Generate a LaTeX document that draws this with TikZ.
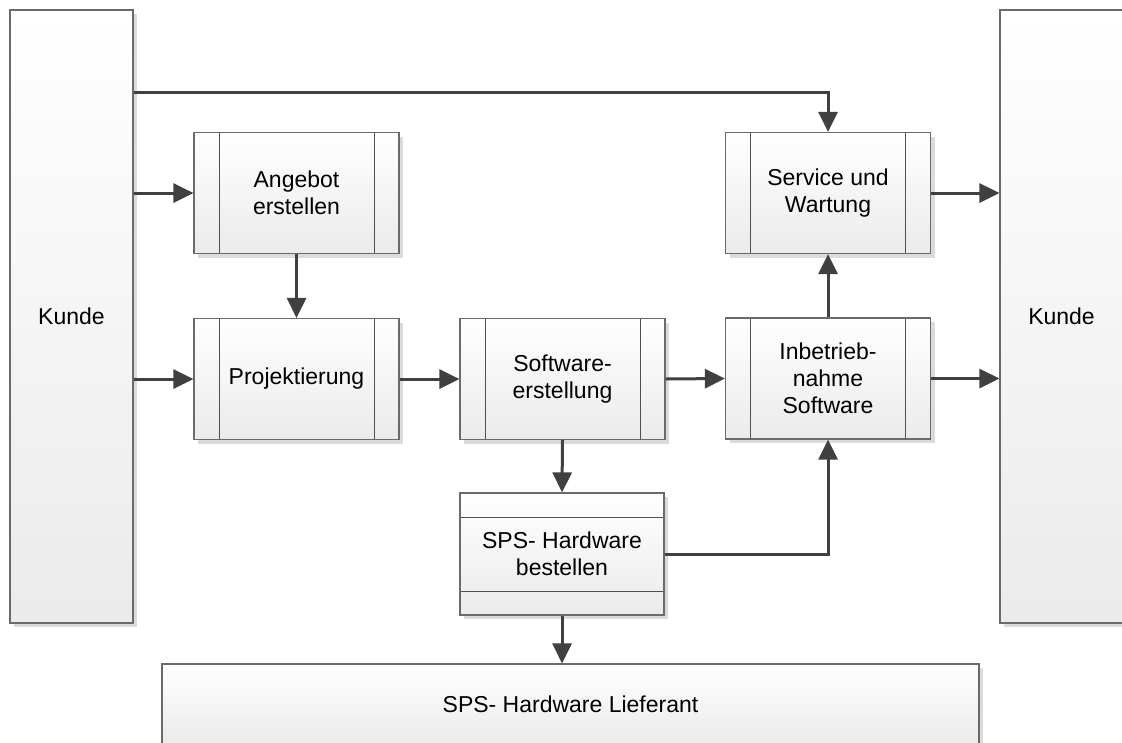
\documentclass[tikz,border=0pt]{standalone}
\usepackage{fontspec}
\setmainfont{Liberation Sans}
\usetikzlibrary{shadows,arrows.meta}
\definecolor{edge}{HTML}{6A6A6A}
\definecolor{inner}{HTML}{505050}
\definecolor{flow}{HTML}{404040}
\begin{document}
\begin{tikzpicture}[x=1pt,y=-1pt,
  box/.style={draw=edge, line width=1.2pt, top color=white, bottom color=black!8,
    general shadow={fill=black!14, shadow xshift=4pt, shadow yshift=-4pt},
    inner sep=0pt, align=center, font=\fontsize{23}{27}\selectfont},
  proc/.style={box, minimum width=205pt, minimum height=121pt,
    path picture={
      \draw[inner, line width=1pt] ([xshift=25pt]path picture bounding box.north west) -- ([xshift=25pt]path picture bounding box.south west);
      \draw[inner, line width=1pt] ([xshift=-25pt]path picture bounding box.north east) -- ([xshift=-25pt]path picture bounding box.south east);}},
  order/.style={box, minimum width=204pt, minimum height=122pt,
    path picture={
      \draw[inner, line width=1pt] ([yshift=-24pt]path picture bounding box.north west) -- ([yshift=-24pt]path picture bounding box.north east);
      \draw[inner, line width=1pt] ([yshift=24pt]path picture bounding box.south west) -- ([yshift=24pt]path picture bounding box.south east);}},
  party/.style={box, minimum width=123pt, minimum height=613pt},
  flow/.style={draw=flow, line width=3pt, -{Triangle[length=20pt,width=19pt]}}
]
\useasboundingbox (0,0) rectangle (1122,742);

% customer on both sides
\node[party] (kundeL) at (71.5,316.5) {Kunde};
\node[party] (kundeR) at (1061.5,316.5) {Kunde};

% process steps
\node[proc] (angebot) at (296.5,193) {Angebot\\erstellen};
\node[proc] (projekt) at (296.5,379) {Projektierung};
\node[proc] (software) at (562.5,379) {Software-\\erstellung};
\node[proc] (inbetrieb) at (828,378.5) {Inbetrieb-\\nahme\\Software};
\node[proc] (service) at (828,193) {Service und\\Wartung};
\node[order] (bestellen) at (562,554) {SPS- Hardware\\bestellen};

% supplier
\node[box, minimum width=817pt, minimum height=80pt] (lieferant) at (570.5,704) {SPS- Hardware Lieferant};

% flows
\coordinate (servicelane) at (0,92);
\draw[flow] (kundeL.east |- servicelane) -| (service.north);
\draw[flow] (kundeL.east |- angebot.west) -- (angebot.west);
\draw[flow] (kundeL.east |- projekt.west) -- (projekt.west);
\draw[flow] (angebot.south) -- (projekt.north);
\draw[flow] (projekt.east) -- (software.west);
\draw[flow] (software.east) -- (inbetrieb.west);
\draw[flow] (inbetrieb.north) -- (service.south);
\draw[flow] (service.east) -- (kundeR.west |- service.east);
\draw[flow] (inbetrieb.east) -- (kundeR.west |- inbetrieb.east);
\draw[flow] (software.south) -- (bestellen.north);
\draw[flow] (bestellen.east) -| (inbetrieb.south);
\draw[flow] (bestellen.south) -- (lieferant.north -| bestellen.south);
\end{tikzpicture}
\end{document}
